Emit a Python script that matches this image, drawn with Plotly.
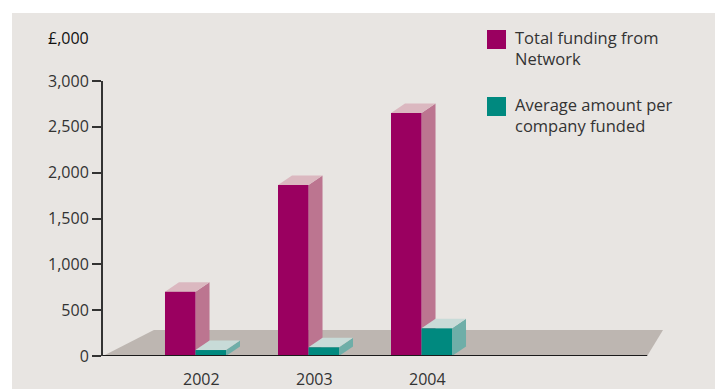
import plotly.graph_objects as go

# ---- data ----
years = ["2002", "2003", "2004"]
total_funding = [700, 1865, 2650]
avg_per_company = [65, 95, 302]
series_names = ["Total funding from<br>Network", "Average amount per<br>company funded"]
y_ticks = [0, 500, 1000, 1500, 2000, 2500, 3000]
y_tick_text = ["0", "500", "1,000", "1,500", "2,000", "2,500", "3,000"]

# ---- style ----
W, H = 715, 389
ML, MR, MT, MB = 103, 52, 81, 33
XR = [-0.8186, 4.137]
YR = [0, 3000]
BAR_W = 0.27
DX = 0.124          # depth offset in x units
DY = 104            # depth offset in y units
BG = "#e8e5e2"
FLOOR = "#bdb6b1"
COLS = [
    dict(front="#9a0060", side="#bc7590", top="#dbb8c0"),
    dict(front="#00897f", side="#6eaea8", top="#c8dbd8"),
]
FONT = "Open Sans"
TXT = "#333333"

fig = go.Figure()

def poly(xs, ys, color):
    fig.add_trace(go.Scatter(x=xs + [xs[0]], y=ys + [ys[0]], mode="lines",
                             fill="toself", fillcolor=color,
                             line=dict(width=0, color=color),
                             hoverinfo="skip", showlegend=False))

# floor
floor_top = 283
poly([XR[0], XR[0] + 0.45, XR[1], XR[1] - 0.14],
     [0, floor_top, floor_top, 0], FLOOR)

# 3D bars
for i, yr in enumerate(years):
    for s, vals in enumerate([total_funding, avg_per_company]):
        v = vals[i]
        x0 = i - BAR_W + s * BAR_W
        x1 = x0 + BAR_W
        c = COLS[s]
        # side
        poly([x1, x1 + DX, x1 + DX, x1], [0, DY, v + DY, v], c["side"])
        # top
        poly([x0, x1, x1 + DX, x0 + DX], [v, v, v + DY, v + DY], c["top"])
        # front
        poly([x0, x1, x1, x0], [0, 0, v, v], c["front"])

shapes = [
    dict(type="rect", xref="paper", yref="paper",
         x0=(12 - ML) / (W - ML - MR), x1=1.2,
         y0=-0.2, y1=(H - MB - 13) / (H - MT - MB),
         fillcolor=BG, line=dict(width=0), layer="below"),
    dict(type="line", xref="x", yref="y", x0=XR[0], x1=XR[1] - 0.14, y0=0, y1=0,
         line=dict(color="#1a1a1a", width=2)),
]

annotations = [
    dict(text="£,000", xref="paper", yref="paper",
         x=(46 - ML) / (W - ML - MR), y=(H - MB - 38) / (H - MT - MB),
         xanchor="left", yanchor="middle", showarrow=False,
         font=dict(family=FONT, size=16, color="#111", weight=500)),
]
# x category labels
for i, yr in enumerate(years):
    annotations.append(dict(text=yr, xref="x", yref="paper", x=i + 0.05,
                            y=(H - MB - 379) / (H - MT - MB),
                            xanchor="center", yanchor="middle", showarrow=False,
                            font=dict(family=FONT, size=16, color=TXT)))
# custom legend
leg_sq = [(487, 30), (487, 97)]
for s, name in enumerate(series_names):
    sx, sy = leg_sq[s]
    pw, ph = W - ML - MR, H - MT - MB
    shapes.append(dict(type="rect", xref="paper", yref="paper",
                       x0=(sx - ML) / pw, x1=(sx + 19 - ML) / pw,
                       y0=(H - MB - (sy + 19)) / ph, y1=(H - MB - sy) / ph,
                       fillcolor=COLS[s]["front"], line=dict(width=0)))
    annotations.append(dict(text=name, xref="paper", yref="paper",
                            x=(513 - ML) / pw, y=(H - MB - (sy - 6)) / ph,
                            xanchor="left", yanchor="top", align="left",
                            showarrow=False,
                            font=dict(family=FONT, size=16.5, color=TXT)))

fig.update_layout(
    width=W, height=H,
    margin=dict(l=ML, r=MR, t=MT, b=MB, pad=0),
    paper_bgcolor="white", plot_bgcolor="rgba(0,0,0,0)",
    showlegend=False,
    xaxis=dict(range=XR, visible=False, fixedrange=True),
    yaxis=dict(range=YR, tickvals=y_ticks, ticktext=y_tick_text,
               showgrid=False, zeroline=False, showline=True,
               linecolor="#333", linewidth=2, ticks="outside", ticklen=9,
               tickwidth=1.5, tickcolor="#333",
               tickfont=dict(family=FONT, size=16, color=TXT),
               fixedrange=True),
    shapes=shapes, annotations=annotations,
)

fig.write_html("out.html")
